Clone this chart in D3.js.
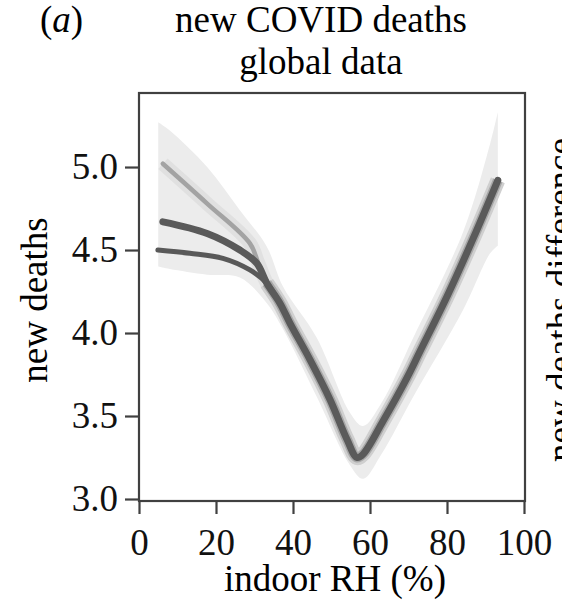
<!DOCTYPE html>
<html>
<head>
<meta charset="utf-8">
<script src="https://cdn.jsdelivr.net/npm/d3@7"></script>
<style>
  body { margin: 0; background: #fff; }
  svg { display: block; font-family: "Liberation Serif", "Times New Roman", serif; }
</style>
</head>
<body>
<script>
var width = 562,
    height = 607;

// tick values
var xTicks = [0, 20, 40, 60, 80, 100];
var yTicks = [3.0, 3.5, 4.0, 4.5, 5.0];

// left parts of the three fitted curves (indoor RH %, new deaths)
var leftA = [[6.2, 5.02], [17.7, 4.78], [28.8, 4.54], [31.0, 4.42]];
var leftB = [[6.2, 4.67], [17.7, 4.60], [26.2, 4.50], [30.6, 4.42]];
var leftC = [[4.9, 4.50], [13.2, 4.48], [21.8, 4.45], [28.8, 4.38]];

// common part, where the curves overlap
var shared = [[33.2, 4.30], [36.6, 4.18], [39.2, 4.06], [44.4, 3.84], [49.6, 3.60],
              [54.0, 3.36], [56.6, 3.25], [58.2, 3.27], [63.4, 3.47], [69.6, 3.73],
              [73.0, 3.89], [80.0, 4.22], [86.8, 4.57], [93.2, 4.92]];

// envelope of the ensemble runs
var bandUpper = [[5.0, 5.27], [8.0, 5.22], [17.7, 5.00], [26.2, 4.74], [33.2, 4.52],
                 [37.4, 4.28], [46.2, 3.97], [54.8, 3.52], [58.2, 3.44], [63.0, 3.58],
                 [71.2, 3.97], [84.2, 4.61], [91.2, 5.14], [93.2, 5.33]];
var bandLower = [[5.0, 4.40], [13.2, 4.36], [28.8, 4.33], [33.2, 4.18], [41.8, 3.86],
                 [50.4, 3.38], [57.4, 3.10], [61.8, 3.22], [69.6, 3.55], [84.2, 4.14],
                 [91.2, 4.48], [93.8, 4.54]];

var svg = d3.select("body")
    .append("svg")
    .attr("width", width)
    .attr("height", height);

var x = d3.scaleLinear().domain([0, 100]).range([139, 524]);
var y = d3.scaleLinear().domain([2.988, 5.446]).range([501, 93]);

var smooth = d3.curveCatmullRom.alpha(0.5);

// band: upper and lower joined by x
var lowerAt = d3.scaleLinear()
    .domain(bandLower.map(function(d) { return d[0]; }))
    .range(bandLower.map(function(d) { return d[1]; }))
    .clamp(true);

var band = bandUpper.map(function(d) {
    return { x: d[0], hi: d[1], lo: lowerAt(d[0]) };
});

var area = d3.area()
    .curve(smooth)
    .x(function(d) { return x(d.x); })
    .y0(function(d) { return y(d.lo); })
    .y1(function(d) { return y(d.hi); });

svg.append("path")
    .datum(band)
    .attr("fill", "#ececec")
    .attr("d", area);

var line = d3.line()
    .curve(smooth)
    .x(function(d) { return x(d[0]); })
    .y(function(d) { return y(d[1]); });

var curveA = leftA.concat(shared),
    curveB = leftB.concat(shared),
    curveC = leftC.concat(shared);

// soft halo around the curves
[[curveA, "#e0e0e0", 14], [shared, "#cfcfcf", 15], [shared, "#a8a8a8", 10]].forEach(function(h) {
    svg.append("path")
        .datum(h[0])
        .attr("fill", "none")
        .attr("stroke", h[1])
        .attr("stroke-width", h[2])
        .attr("stroke-linejoin", "round")
        .attr("d", line);
});

svg.append("path")
    .datum(curveA)
    .attr("fill", "none")
    .attr("stroke", "#a3a3a3")
    .attr("stroke-width", 4.5)
    .attr("stroke-linecap", "round")
    .attr("d", line);

svg.append("path")
    .datum(curveC)
    .attr("fill", "none")
    .attr("stroke", "#595959")
    .attr("stroke-width", 5)
    .attr("stroke-linecap", "round")
    .attr("d", line);

svg.append("path")
    .datum(curveB)
    .attr("fill", "none")
    .attr("stroke", "#5a5a5a")
    .attr("stroke-width", 7)
    .attr("stroke-linecap", "round")
    .attr("d", line);

// frame
svg.append("rect")
    .attr("x", x(0))
    .attr("y", y.range()[1])
    .attr("width", x(100) - x(0) + 1)
    .attr("height", y.range()[0] - y.range()[1])
    .attr("fill", "none")
    .attr("stroke", "#404040")
    .attr("stroke-width", 2.2);

var xAxis = svg.append("g")
    .attr("transform", "translate(0," + y.range()[0] + ")")
    .call(d3.axisBottom(x).tickValues(xTicks).tickSize(13).tickPadding(15)
        .tickFormat(d3.format("d")));

var yAxis = svg.append("g")
    .attr("transform", "translate(" + x(0) + ",0)")
    .call(d3.axisLeft(y).tickValues(yTicks).tickSize(14).tickPadding(7)
        .tickFormat(d3.format(".1f")));

[xAxis, yAxis].forEach(function(g) {
    g.select(".domain").remove();
    g.selectAll(".tick line").attr("stroke", "#404040").attr("stroke-width", 2.2);
    g.selectAll(".tick text")
        .attr("fill", "#111")
        .style("font-family", "Liberation Serif")
        .style("font-size", "37px");
});

// titles and labels
svg.append("text")
    .attr("x", 40)
    .attr("y", 32)
    .style("font-size", "37px")
    .html("(<tspan font-style='italic'>a</tspan>)");

svg.append("text")
    .attr("x", 321)
    .attr("y", 32)
    .attr("text-anchor", "middle")
    .style("font-size", "37px")
    .text("new COVID deaths");

svg.append("text")
    .attr("x", 321)
    .attr("y", 74)
    .attr("text-anchor", "middle")
    .style("font-size", "37px")
    .text("global data");

svg.append("text")
    .attr("x", 335)
    .attr("y", 591)
    .attr("text-anchor", "middle")
    .style("font-size", "37px")
    .text("indoor RH (%)");

svg.append("text")
    .attr("transform", "translate(47,300) rotate(-90)")
    .attr("text-anchor", "middle")
    .style("font-size", "37px")
    .text("new deaths");

// label of the neighbouring panel, cut by the edge as in the source figure
svg.append("text")
    .attr("transform", "translate(573,462) rotate(-90)")
    .attr("text-anchor", "start")
    .style("font-size", "37px")
    .text("new deaths difference");
</script>
</body>
</html>
